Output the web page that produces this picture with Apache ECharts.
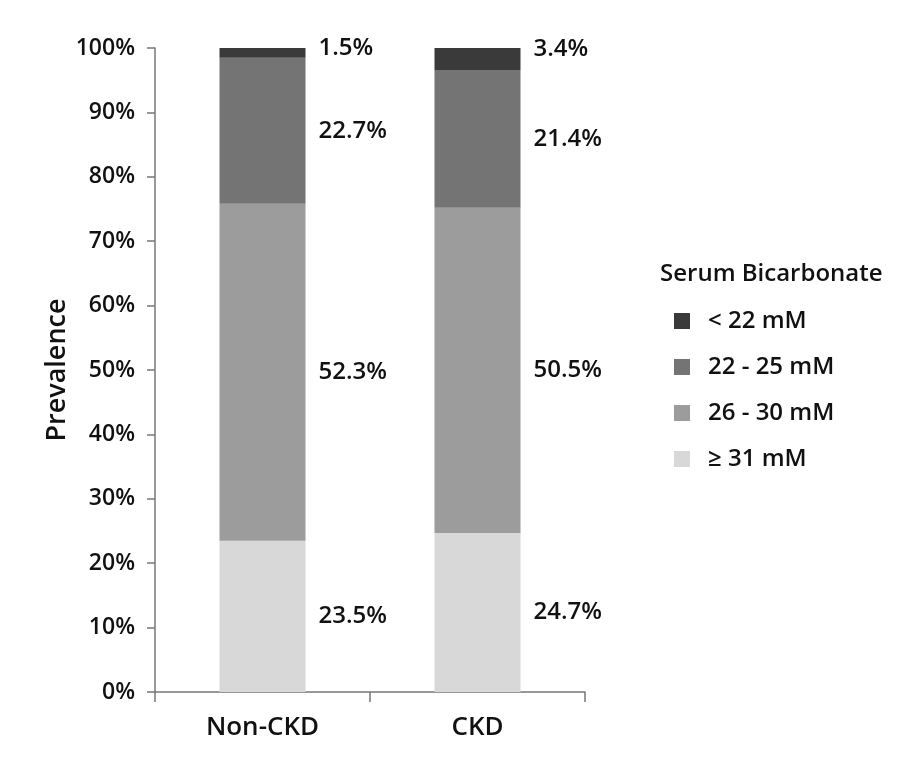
<!DOCTYPE html>
<html>
<head>
<meta charset="utf-8">
<script src="https://cdn.jsdelivr.net/npm/echarts@6/dist/echarts.min.js"></script>
<style>html,body{margin:0;padding:0;background:#fff}#c{width:906px;height:775px}</style>
</head>
<body>
<div id="c"></div>
<script>
const categories = ['Non-CKD', 'CKD'];
const seriesNames = ['< 22 mM', '22 - 25 mM', '26 - 30 mM', '\u2265 31 mM'];
const below22 = [1.5, 3.4];
const from22to25 = [22.7, 21.4];
const from26to30 = [52.3, 50.5];
const above31 = [23.5, 24.7];
const yTicks = [0, 10, 20, 30, 40, 50, 60, 70, 80, 90, 100];

const FONT = 'Open Sans';
const W = 600;
const colors = {
  '< 22 mM': '#3a3a3a',
  '22 - 25 mM': '#747474',
  '26 - 30 mM': '#9c9c9c',
  '\u2265 31 mM': '#d8d8d8'
};

function mk(name, values, topOffsets) {
  return {
    name: name,
    type: 'bar',
    stack: 'total',
    barWidth: 86,
    itemStyle: { color: colors[name] },
    data: values.map((v, i) => ({
      value: v,
      label: topOffsets ? { offset: [0, topOffsets[i]] } : undefined
    })),
    label: {
      show: true,
      position: 'right',
      distance: 13,
      formatter: p => p.value.toFixed(1) + '%',
      fontFamily: FONT,
      fontWeight: W,
      fontSize: 24,
      color: '#111'
    },
    emphasis: { disabled: true }
  };
}

const chart = echarts.init(document.getElementById('c'), null, { renderer: 'canvas' });
chart.setOption({
  animation: false,
  backgroundColor: '#fff',
  title: {
    text: 'Serum Bicarbonate',
    left: 655,
    top: 257,
    textStyle: { fontFamily: FONT, fontSize: 24, fontWeight: W, color: '#111' }
  },
  legend: {
    orient: 'vertical',
    left: 669,
    top: 303,
    itemWidth: 16,
    itemHeight: 16,
    itemGap: 20,
    icon: 'rect',
    data: seriesNames,
    textStyle: { fontFamily: FONT, fontSize: 24, fontWeight: W, lineHeight: 26, color: '#111', padding: [0, 0, 0, 13] }
  },
  grid: { left: 155, right: 321, top: 48, bottom: 83 },
  xAxis: {
    type: 'category',
    data: categories,
    axisLine: { lineStyle: { color: '#777', width: 1.5 } },
    axisTick: { show: true, length: 10, lineStyle: { color: '#777', width: 1.5 } },
    axisLabel: { fontFamily: FONT, fontSize: 26, fontWeight: W, color: '#111', margin: 23 }
  },
  yAxis: {
    type: 'value',
    min: 0,
    max: 100,
    interval: 10,
    name: 'Prevalence',
    nameLocation: 'middle',
    nameGap: 84,
    nameTextStyle: { fontFamily: FONT, fontSize: 27, fontWeight: W, color: '#111' },
    axisLine: { show: true, lineStyle: { color: '#777', width: 1.5 } },
    axisTick: { show: true, length: 8, lineStyle: { color: '#777', width: 1.5 } },
    splitLine: { show: false },
    axisLabel: {
      fontFamily: FONT, fontSize: 23, fontWeight: W, color: '#111', margin: 20,
      formatter: v => yTicks.includes(v) ? v + '%' : ''
    }
  },
  series: [
    mk(seriesNames[3], above31),
    mk(seriesNames[2], from26to30),
    mk(seriesNames[1], from22to25),
    mk(seriesNames[0], below22, [-5, -10])
  ]
});
</script>
</body>
</html>
